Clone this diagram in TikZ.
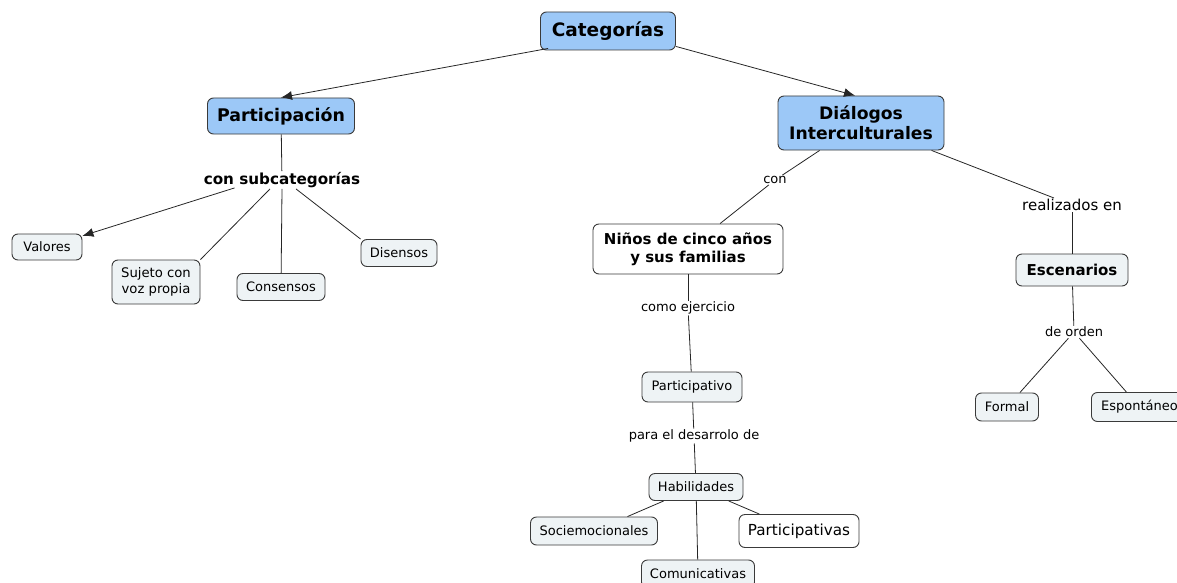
\documentclass[tikz,border=0pt]{standalone}
\usepackage{fontspec}
\setmainfont{DejaVu Sans}
\usetikzlibrary{arrows.meta}
\definecolor{blu}{HTML}{9CC8F7}
\definecolor{lite}{HTML}{EEF3F5}
\definecolor{edge}{HTML}{3A3A3A}
\tikzset{
  box/.style={draw=edge, line width=0.9pt, rounded corners=6pt, align=center, inner sep=2pt},
  bluebox/.style={box, fill=blu, font=\bfseries\fontsize{17.4}{20}\selectfont},
  litebox/.style={box, fill=lite, font=\fontsize{13}{15}\selectfont},
  whitebox/.style={box, fill=white},
  lab/.style={inner sep=1pt, font=\fontsize{13}{15}\selectfont},
  conn/.style={draw=black!85, line width=0.8pt},
  arr/.style={conn, -{Latex[length=11pt,width=9pt]}}
}
\begin{document}
\begin{tikzpicture}[x=1pt,y=-1pt]
\useasboundingbox (0,0) rectangle (1177,583);
% main nodes
\node[bluebox, minimum width=135, minimum height=38, font=\bfseries\fontsize{18.5}{20}\selectfont] (cat) at (608,31) {Categorías};
\node[bluebox, minimum width=147, minimum height=36] (part) at (281,116) {Participación};
\node[bluebox, minimum width=166, minimum height=54, font=\bfseries\fontsize{17.2}{20}\selectfont] (dia) at (861,123) {Diálogos\\Interculturales};
% left branch
\node[lab, font=\bfseries\fontsize{15.2}{17}\selectfont] (sub) at (282,180) {con subcategorías};
\node[litebox, minimum width=70, minimum height=26] (val) at (47,247) {Valores};
\node[litebox, minimum width=88, minimum height=44, font=\fontsize{13.2}{16}\selectfont] (suj) at (156,282) {Sujeto con\\voz propia};
\node[litebox, minimum width=88, minimum height=27] (cons) at (281,287) {Consensos};
\node[litebox, minimum width=76, minimum height=27] (dis) at (399,253) {Disensos};
% middle branch
\node[lab] (con) at (775,180) {con};
\node[whitebox, minimum width=190, minimum height=50, font=\bfseries\fontsize{15}{18}\selectfont] (nin) at (688,249) {Niños de cinco años\\y sus familias};
\node[lab] (ejer) at (688,308) {como ejercicio};
\node[litebox, minimum width=100, minimum height=30] (pvo) at (692,387) {Participativo};
\node[lab] (desa) at (694,436) {para el desarrolo de};
\node[litebox, minimum width=94, minimum height=27] (hab) at (696,487) {Habilidades};
\node[litebox, minimum width=127, minimum height=28] (soc) at (594,531) {Sociemocionales};
\node[whitebox, minimum width=120, minimum height=33, font=\fontsize{15.2}{17}\selectfont] (pvas) at (799,531) {Participativas};
\node[litebox, minimum width=113, minimum height=28] (com) at (698,574) {Comunicativas};
% right branch
\node[lab, font=\fontsize{15}{17}\selectfont] (real) at (1072,205) {realizados en};
\node[litebox, minimum width=112, minimum height=32, font=\bfseries\fontsize{15}{17}\selectfont] (esc) at (1072,270) {Escenarios};
\node[lab] (ord) at (1074,332) {de orden};
\node[litebox, minimum width=63, minimum height=28] (for) at (1007,407) {Formal};
\node[litebox, minimum width=96, minimum height=29, anchor=west] (esp) at (1091,407) {Espontáneo};
% connectors
\draw[arr] (cat.south west) ++(8,-2) coordinate (c1) -- (part.north);
\draw[arr] (cat.south east) ++(0,-4) coordinate (c2) -- ([xshift=-6pt]dia.north);
\draw[conn] (part) -- (sub);
\draw[arr] (sub.south west) ++(32,-1) coordinate (s1) -- (val);
\draw[conn] (sub.south) ++(-12,0) coordinate (s2) -- (suj.north east);
\draw[conn] (sub.south) -- (cons);
\draw[conn] (sub.south) ++(14,0) coordinate (s3) -- (dis.north west);
\draw[conn] (dia) -- (con);
\draw[conn] (con) -- (nin);
\draw[conn] (nin) -- (ejer);
\draw[conn] (ejer) -- (pvo);
\draw[conn] (pvo) -- (desa);
\draw[conn] (desa) -- (hab);
\draw[conn] (hab) -- (soc);
\draw[conn] (hab) -- (pvas);
\draw[conn] (hab) -- (com);
\draw[conn] (dia) -- (real);
\draw[conn] (real) -- (esc);
\draw[conn] (esc) -- (ord);
\draw[conn] (ord) -- (for);
\draw[conn] (ord) -- (esp);
\end{tikzpicture}
\end{document}
